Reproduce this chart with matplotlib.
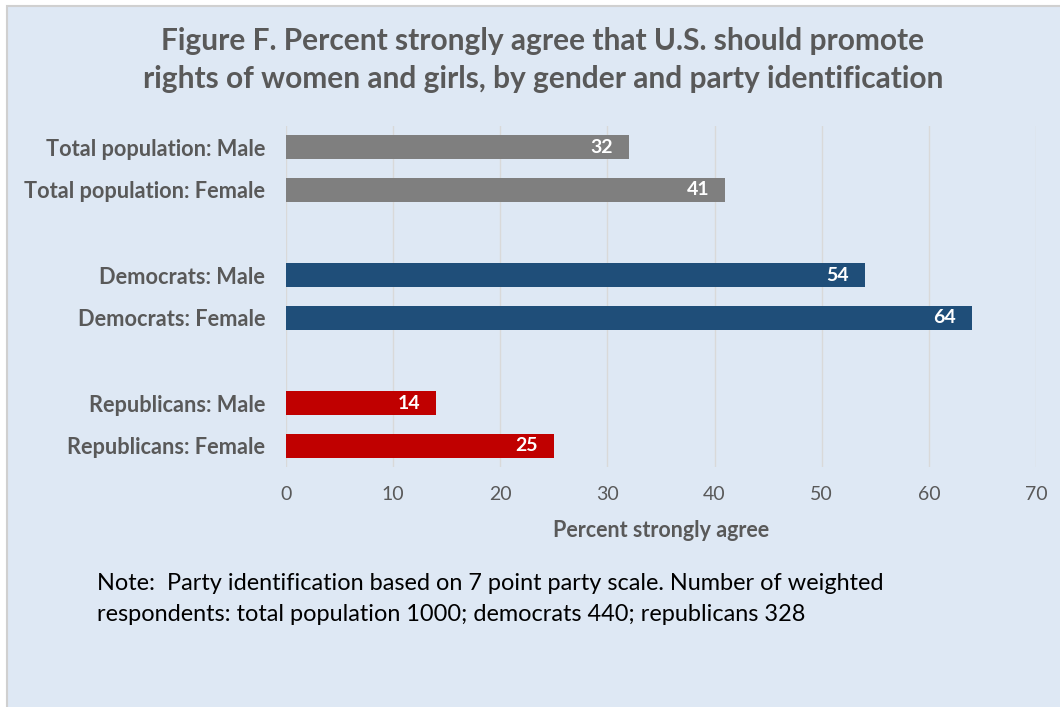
import matplotlib
matplotlib.use("Agg")
import matplotlib.pyplot as plt
from matplotlib.patches import Rectangle

categories = ["Total population: Male", "Total population: Female",
              "Democrats: Male", "Democrats: Female",
              "Republicans: Male", "Republicans: Female"]
values = [32, 41, 54, 64, 14, 25]
groups = [0, 0, 1, 1, 2, 2]
group_colors = ["#7F7F7F", "#1F4E79", "#C00000"]
xticks = [0, 10, 20, 30, 40, 50, 60, 70]
title = ("Figure F. Percent strongly agree that U.S. should promote\n"
         "rights of women and girls, by gender and party identification")
xlabel = "Percent strongly agree"
note = ("Note:  Party identification based on 7 point party scale. Number of weighted\n"
        "respondents: total population 1000; democrats 440; republicans 328")

plt.rcParams['font.family'] = ['Lato', 'DejaVu Sans']
W, H = 1060, 707
fig = plt.figure(figsize=(W / 100, H / 100), dpi=100)
fig.patch.set_facecolor("white")
bg = "#DEE8F4"
fig.patches.append(Rectangle((7 / W, -0.1), 1.2, 1 - 6 / H + 0.1, transform=fig.transFigure,
                             facecolor=bg, edgecolor="#D0D0D0", linewidth=1.5, zorder=-10))

ax = fig.add_axes([286 / W, 1 - 467 / H, (1036 - 286) / W, (467 - 126) / H])
ax.set_facecolor("none")

# positions with a blank slot between groups
pos = []
for i, g in enumerate(groups):
    pos.append(i + g)
colors = [group_colors[g] for g in groups]
bars = ax.barh(pos, values, height=0.56, color=colors, zorder=3)
for b, v in zip(bars, values):
    ax.text(v - 1.5, b.get_y() + b.get_height() / 2, str(v), ha="right", va="center",
            color="white", fontsize=14, fontweight="bold", zorder=4)

ax.set_ylim(max(pos) + 0.5, -0.5)
ax.set_xlim(0, 70)
ax.set_yticks(pos)
ax.set_yticklabels(categories, fontsize=15.7, fontweight="bold", color="#595959")
ax.set_xticks(xticks)
ax.set_xticklabels([str(t) for t in xticks], fontsize=14, color="#595959")
ax.tick_params(axis="both", length=0)
ax.tick_params(axis="y", pad=15)
ax.tick_params(axis="x", pad=14)
ax.grid(axis="x", color="#D9D9D9", linewidth=1, zorder=0)
for s in ax.spines.values():
    s.set_visible(False)
ax.set_xlabel(xlabel, fontsize=15.5, fontweight="bold", color="#595959", labelpad=12)

fig.text(543 / W, 1 - 60 / H, title, ha="center", va="center", fontsize=21.5,
         fontweight="bold", color="#595959", linespacing=1.4)
fig.text(97 / W, 1 - 599 / H, note, ha="left", va="center", fontsize=16.9,
         color="black", linespacing=1.55)

fig.savefig("out.png", dpi=100, facecolor=fig.get_facecolor())
